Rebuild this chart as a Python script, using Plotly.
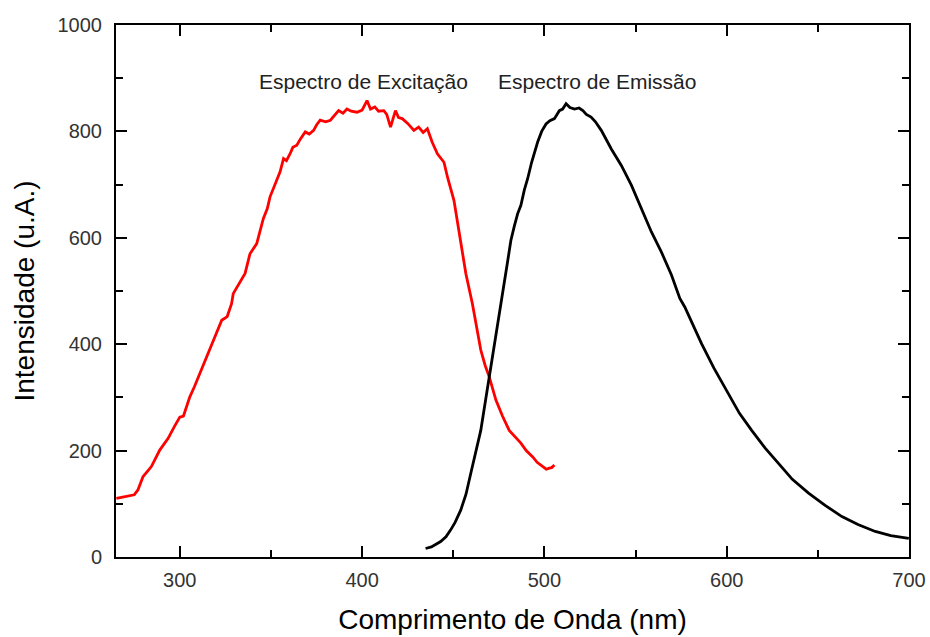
import plotly.graph_objects as go

# Excitation spectrum (red)
exc_x = [265.2, 268, 272.5, 275, 277, 279.8, 282, 284.4, 289, 293.6, 297, 300, 302, 305.5, 308, 311,
         316.5, 320, 323, 326, 328.4, 329.3, 332, 335.8, 338.5, 342.2, 345.8, 348, 349.5, 351, 353.2,
         355, 356.9, 358.5, 360.5, 362, 364.2, 366, 368.8, 371, 373.4, 375, 377, 380, 382.6, 385,
         387.1, 389.5, 391.7, 394, 397.2, 400, 402.7, 404.6, 407, 409, 411.9, 413.5, 415.6, 418.3,
         420, 422, 425, 428.4, 431, 433.5, 435.8, 438.4, 441.3, 444.9, 447, 450.4, 453.2, 455,
         456.9, 460.5, 463, 465.1, 467.5, 469.7, 473.4, 477, 480.7, 484, 487.1, 490, 493.6, 496,
         499.1, 501, 502.7, 504, 505.5]
exc_y = [110, 112, 116, 117, 126, 151, 160, 170, 201, 223, 245, 263, 265, 301, 320, 345,
         389, 420, 445, 452, 476, 495, 510, 533, 570, 589, 636, 655, 677, 690, 708,
         724, 749, 745, 758, 770, 774, 785, 799, 795, 802, 812, 821, 818, 821, 830,
         839, 834, 842, 838, 836, 840, 858, 842, 846, 838, 839, 832, 808, 839,
         826, 824, 815, 802, 808, 798, 805, 780, 758, 742, 712, 670, 614, 575,
         533, 476, 430, 389, 360, 339, 295, 265, 238, 225, 214, 200, 188, 178,
         170, 165, 167, 168, 173]

# Emission spectrum (black)
emi_x = [434.8, 438, 443.1, 446, 448.6, 451, 454.1, 457, 459.6, 462, 465.1, 467.5, 469.7, 472, 474.3,
         476, 477.9, 479.8, 481.6, 483.5, 485.3, 487.1, 489, 490.8, 493, 496.3, 498.5, 500.9,
         503, 505.5, 508.2, 510, 511.9, 514, 516.5, 519, 521.1, 523, 525.6, 528, 531.2, 536.7,
         542.2, 547.7, 553.2, 558.7, 564.2, 569.7, 574.3, 577, 581, 586.2, 593, 600.9, 607, 613.7,
         621, 628.4, 636, 644.9, 654, 663.2, 672, 681.5, 690, 699.9]
emi_y = [16, 19, 29, 38, 51, 65, 88, 118, 157, 195, 238, 290, 339, 390, 439,
         480, 514, 555, 595, 622, 645, 661, 690, 711, 742, 780, 800, 814,
         820, 824, 839, 842, 852, 845, 842, 844, 839, 832, 827, 818, 802, 767,
         736, 699, 655, 611, 573, 530, 486, 470, 440, 401, 355, 307, 270, 238,
         205, 176, 146, 120, 97, 76, 61, 48, 40, 35]

label_text = ["Espectro de Excitação", "Espectro de Emissão"]
label_x = [400.7, 529]
label_y = [894, 894]

x_ticks = [300, 400, 500, 600, 700]
y_ticks = [0, 200, 400, 600, 800, 1000]

FONT = "Liberation Sans, Arial, sans-serif"

fig = go.Figure()
fig.add_trace(go.Scatter(x=exc_x, y=exc_y, mode="lines",
                         line=dict(color="#ff0000", width=2.8), showlegend=False))
fig.add_trace(go.Scatter(x=emi_x, y=emi_y, mode="lines",
                         line=dict(color="#000000", width=2.8), showlegend=False))

for t, xx, yy in zip(label_text, label_x, label_y):
    fig.add_annotation(x=xx, y=yy, text=t, showarrow=False,
                       font=dict(family=FONT, size=21, color="#222"),
                       xanchor="center", yanchor="middle")

axis_common = dict(showline=True, linecolor="black", linewidth=2, mirror="ticks",
                   ticks="inside", ticklen=11, tickwidth=2, tickcolor="black",
                   showgrid=False, zeroline=False,
                   tickfont=dict(family=FONT, size=20, color="#333"))

fig.update_xaxes(range=[265, 700], tickvals=x_ticks, ticklabelstandoff=4,
                 minor=dict(dtick=50, tick0=0, ticks="inside", ticklen=7, tickwidth=2, tickcolor="black"),
                 title=dict(text="Comprimento de Onda (nm)", font=dict(family=FONT, size=28, color="black"),
                            standoff=19),
                 **axis_common)
fig.update_yaxes(range=[0, 1000], tickvals=y_ticks, ticklabelstandoff=8,
                 minor=dict(dtick=100, tick0=0, ticks="inside", ticklen=7, tickwidth=2, tickcolor="black"),
                 title=dict(text="Intensidade (u.A.)", font=dict(family=FONT, size=28, color="black"),
                            standoff=15),
                 **axis_common)

fig.update_layout(width=930, height=637, margin=dict(l=116, r=21, t=25, b=80, autoexpand=False),
                  plot_bgcolor="white", paper_bgcolor="white")

fig.write_html("out.html", config={"displayModeBar": False},
               post_script="document.body.style.margin='0';document.body.style.overflow='hidden';")
